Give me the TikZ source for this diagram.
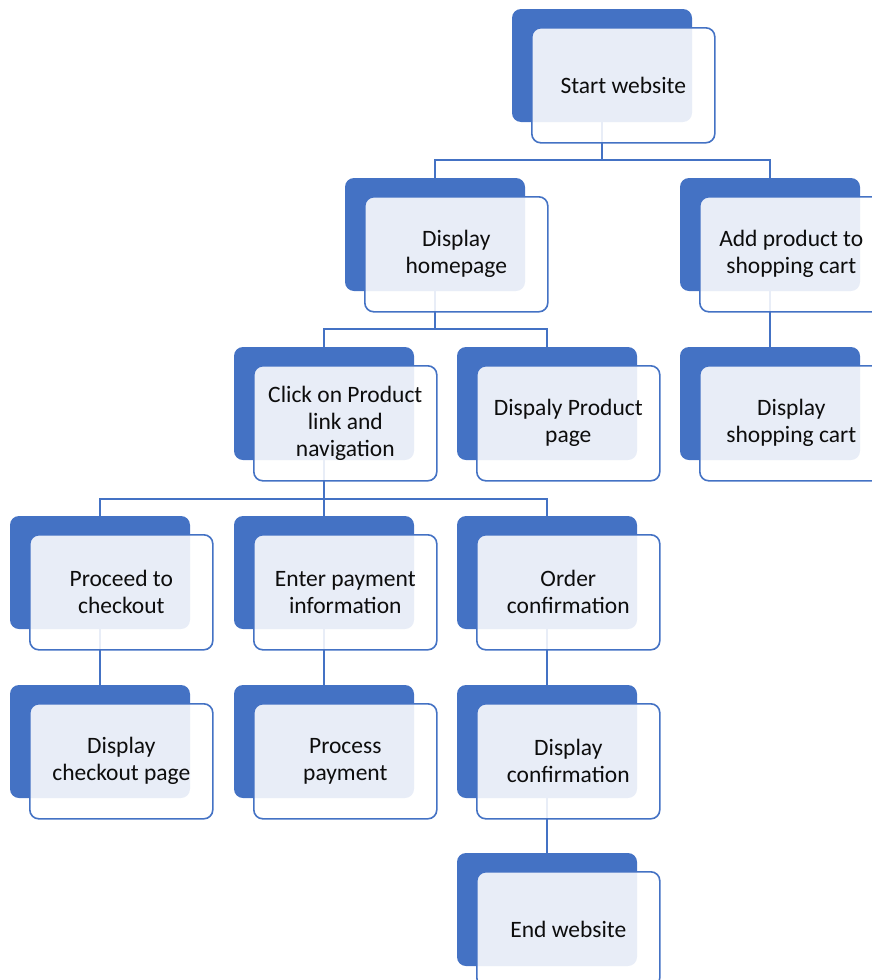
\documentclass[tikz,border=0pt]{standalone}
\usepackage{fontspec}
\setmainfont{Carlito}
\usetikzlibrary{calc}
\definecolor{sablue}{HTML}{4472C4}
\tikzset{
 back/.style={anchor=north west, minimum width=180pt, minimum height=113pt, fill=sablue, rounded corners=9pt, inner sep=0pt, outer sep=0pt},
 front/.style={anchor=north west, minimum width=183pt, minimum height=115pt, draw=sablue, line width=1.6pt, fill=white, fill opacity=0.88, text opacity=1, rounded corners=9pt, align=center, font=\fontsize{23.5}{27}\selectfont, inner sep=0pt, text=black!95},
 link/.style={draw=sablue, line width=1.8pt}
}
\begin{document}
\begin{tikzpicture}[x=1pt,y=1pt]
\useasboundingbox (0,0) rectangle (872,-980);
\clip (0,0) rectangle (872,-980);
% back cards
\node[back] (startB) at (512,-9) {};
\node[back] (homeB) at (345,-178) {};
\node[back] (cartB) at (680,-178) {};
\node[back] (clickB) at (234,-347) {};
\node[back] (prodB) at (457,-347) {};
\node[back] (scartB) at (680,-347) {};
\node[back] (procB) at (10,-516) {};
\node[back] (enterB) at (234,-516) {};
\node[back] (orderB) at (457,-516) {};
\node[back] (chkB) at (10,-685) {};
\node[back] (payB) at (234,-685) {};
\node[back] (confB) at (457,-685) {};
\node[back] (endB) at (457,-853) {};
% connectors
\draw[link] (startB.south) -- ++(0,-38) -| (homeB.north);
\draw[link] (startB.south) -- ++(0,-38) -| (cartB.north);
\draw[link] (homeB.south) -- ++(0,-38) -| (clickB.north);
\draw[link] (homeB.south) -- ++(0,-38) -| (prodB.north);
\draw[link] (cartB.south) -- (scartB.north);
\draw[link] (clickB.south) -- ++(0,-39) -| (procB.north);
\draw[link] (clickB.south) -- ++(0,-39) -| (enterB.north);
\draw[link] (clickB.south) -- ++(0,-39) -| (orderB.north);
\draw[link] (procB.south) -- (chkB.north);
\draw[link] (enterB.south) -- (payB.north);
\draw[link] (orderB.south) -- (confB.north);
\draw[link] (confB.south) -- (endB.north);
% front cards
\node[front] (start) at ($(startB.north west)+(19,-18)$) {Start website};
\node[front] (home) at ($(homeB.north west)+(19,-18)$) {Display\\homepage};
\node[front] (cart) at ($(cartB.north west)+(19,-18)$) {Add product to\\shopping cart};
\node[front] (click) at ($(clickB.north west)+(19,-18)$) {Click on Product\\link and\\navigation};
\node[front] (prod) at ($(prodB.north west)+(19,-18)$) {Dispaly Product\\page};
\node[front] (scart) at ($(scartB.north west)+(19,-18)$) {Display\\shopping cart};
\node[front] (proc) at ($(procB.north west)+(19,-18)$) {Proceed to\\checkout};
\node[front] (enter) at ($(enterB.north west)+(19,-18)$) {Enter payment\\information};
\node[front] (order) at ($(orderB.north west)+(19,-18)$) {Order\\confirmation};
\node[front] (chk) at ($(chkB.north west)+(19,-18)$) {Display\\checkout page};
\node[front] (pay) at ($(payB.north west)+(19,-18)$) {Process\\payment};
\node[front] (conf) at ($(confB.north west)+(19,-18)$) {Display\\confirmation};
\node[front] (endw) at ($(endB.north west)+(19,-18)$) {End website};
\end{tikzpicture}
\end{document}
